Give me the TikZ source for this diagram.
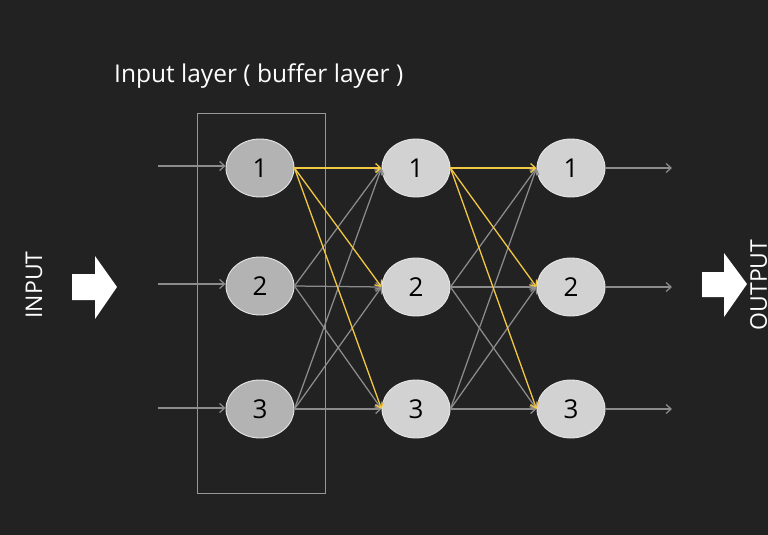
\documentclass[tikz,border=0pt]{standalone}
\usepackage{fontspec}
\setmainfont{Open Sans}
\usetikzlibrary{shapes.geometric,arrows.meta}
\definecolor{bg}{HTML}{222222}
\definecolor{linegray}{HTML}{8C8C8C}
\definecolor{hot}{HTML}{F2C744}
\definecolor{darkfill}{HTML}{B3B3B3}
\definecolor{lightfill}{HTML}{D2D2D2}
\definecolor{rim}{HTML}{E6E6E6}
\begin{document}
\begin{tikzpicture}[x=1pt,y=-1pt,
  neuron/.style={ellipse, draw=rim, line width=0.9pt, minimum width=68pt, minimum height=58pt, inner sep=0pt, font=\fontsize{26}{29}\selectfont, text=black},
  inneuron/.style={neuron, fill=darkfill},
  hidneuron/.style={neuron, fill=lightfill},
  link/.style={draw=linegray, line width=1.25pt, -{Straight Barb[length=5pt,width=9pt]}},
  hotlink/.style={draw=hot, line width=1.3pt, -{Straight Barb[length=5pt,width=9pt]}},
  blockarrow/.style={fill=white, draw=none},
  label/.style={text=white, inner sep=0pt}
]
\fill[bg] (0,0) rectangle (768,535);
\useasboundingbox (0,0) rectangle (768,535);

% title
\node[label, anchor=base west, font=\fontsize{24.5}{28}\selectfont] (title) at (114,82) {Input layer ( buffer layer )};

% buffer box
\node[draw=linegray!90!white, line width=0.9pt, minimum width=128pt, minimum height=380pt, inner sep=0pt] (box) at (261,303) {};

% neurons
\node[inneuron] (a1) at (260,168) {1};
\node[inneuron] (a2) at (260,286) {2};
\node[inneuron] (a3) at (260,409) {3};
\node[hidneuron] (b1) at (416,168) {1};
\node[hidneuron] (b2) at (416,287) {2};
\node[hidneuron] (b3) at (416,409) {3};
\node[hidneuron] (c1) at (571,168) {1};
\node[hidneuron] (c2) at (571,287) {2};
\node[hidneuron] (c3) at (571,409) {3};

% input / output stubs
\coordinate (i1) at (158,166);
\coordinate (i2) at (158,284);
\coordinate (i3) at (158,408);
\coordinate (o1) at (672,168);
\coordinate (o2) at (672,287);
\coordinate (o3) at (672,409);
\draw[link] (i1) -- (a1.west |- i1);
\draw[link] (i2) -- (a2.west |- i2);
\draw[link] (i3) -- (a3.west |- i3);
\draw[link] (c1.east) -- (o1);
\draw[link] (c2.east) -- (o2);
\draw[link] (c3.east) -- (o3);

% gray connections
\foreach \s in {2,3}{
  \foreach \t in {1,2,3}{
    \draw[link] (a\s.east) -- (b\t.west);
    \draw[link] (b\s.east) -- (c\t.west);
  }
}
% highlighted connections
\foreach \t in {1,2,3}{
  \draw[hotlink] (a1.east) -- (b\t.west);
  \draw[hotlink] (b1.east) -- (c\t.west);
}

% block arrows
\fill[blockarrow] (72,274) -- (95,274) -- (95,256) -- (117,287) -- (95,319) -- (95,300) -- (72,300) -- cycle;
\fill[blockarrow] (702,272) -- (724,272) -- (724,253) -- (747,284) -- (724,317) -- (724,297) -- (702,297) -- cycle;

% side labels
\node[label, rotate=90, font=\fontsize{23}{26}\selectfont] (inlab) at (34,285) {INPUT};
\node[label, rotate=90, anchor=north, font=\fontsize{23}{26}\selectfont] (outlab) at (750,285) {OUTPUT};
\end{tikzpicture}
\end{document}
